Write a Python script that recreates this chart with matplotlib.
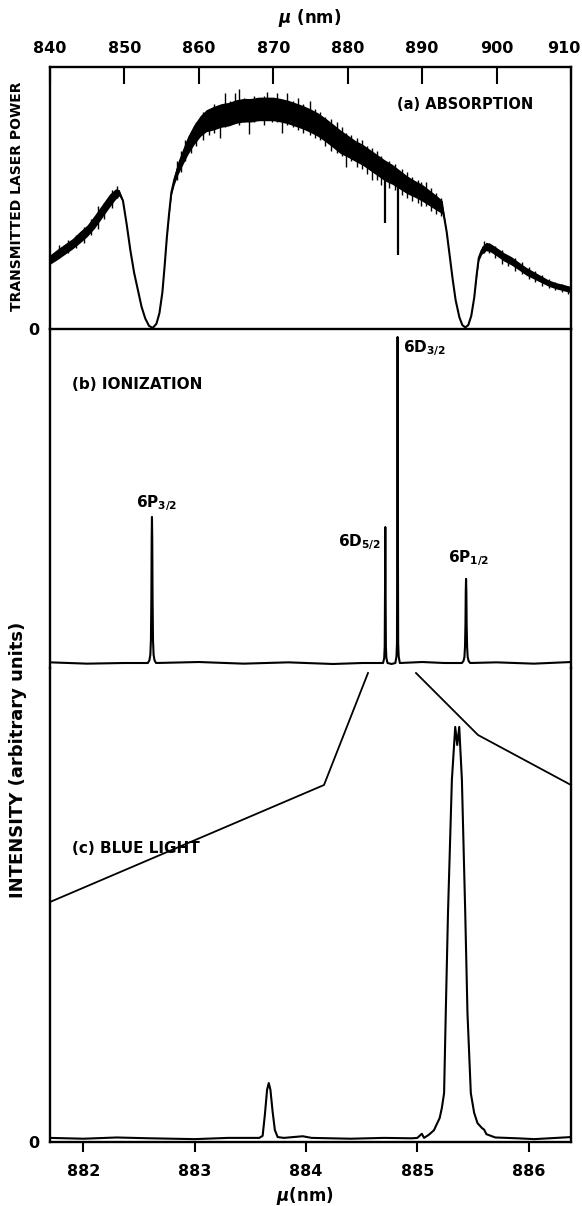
import matplotlib
matplotlib.use("Agg")
import matplotlib.pyplot as plt
from matplotlib.lines import Line2D
import matplotlib.transforms as mtransforms
import numpy as np

plt.rcParams['font.family'] = ['DejaVu Sans']
plt.rcParams['font.weight'] = 'bold'
plt.rcParams['mathtext.fontset'] = 'dejavusans'
plt.rcParams['mathtext.default'] = 'bf'

# ---------------- data ----------------
# (a) absorption: transmitted laser power (fraction of panel height), noisy band half-width
a_wl = [840.0, 841.0, 842.0, 843.0, 844.0, 845.0, 846.0, 847.0, 848.0, 848.8,
        849.3, 849.8, 850.3, 850.8, 851.3, 851.8, 852.3, 852.8, 853.3, 853.8,
        854.3, 854.7, 855.1, 855.4, 855.7, 856.0, 856.3, 856.7, 857.2, 857.8,
        858.5, 859.3, 860.2, 861.0, 862.0, 863.0, 864.0, 865.0, 866.0, 867.0,
        868.0, 869.0, 870.0, 871.0, 872.0, 873.0, 874.0, 875.0, 876.0, 877.0,
        878.0, 879.0, 880.0, 881.0, 882.0, 883.0, 884.0, 885.0, 886.0, 887.0,
        888.0, 889.0, 890.0, 891.0, 892.0, 892.7, 893.0, 893.3, 893.7, 894.1,
        894.5, 895.0, 895.4, 895.8, 896.2, 896.6, 897.0, 897.3, 897.6, 898.0,
        898.6, 899.2, 900.0, 901.0, 902.0, 903.0, 904.0, 905.0, 906.0, 907.0,
        908.0, 909.0, 910.0]
a_mid = [0.265, 0.285, 0.305, 0.325, 0.350, 0.375, 0.410, 0.450, 0.490, 0.515,
         0.520, 0.490, 0.400, 0.300, 0.215, 0.150, 0.085, 0.040, 0.012, 0.004,
         0.020, 0.060, 0.140, 0.240, 0.350, 0.440, 0.520, 0.570, 0.615, 0.655,
         0.700, 0.740, 0.775, 0.795, 0.805, 0.815, 0.820, 0.830, 0.835, 0.835,
         0.840, 0.840, 0.840, 0.835, 0.828, 0.818, 0.808, 0.795, 0.780, 0.760,
         0.738, 0.715, 0.698, 0.680, 0.665, 0.645, 0.625, 0.605, 0.590, 0.570,
         0.550, 0.535, 0.520, 0.500, 0.480, 0.465, 0.420, 0.370, 0.280, 0.190,
         0.110, 0.045, 0.015, 0.006, 0.015, 0.050, 0.120, 0.200, 0.270, 0.300,
         0.315, 0.310, 0.295, 0.275, 0.260, 0.240, 0.220, 0.205, 0.190, 0.175,
         0.165, 0.158, 0.150]
a_band = [0.018, 0.020, 0.020, 0.020, 0.022, 0.022, 0.025, 0.025, 0.025, 0.020,
          0.012, 0.004, 0.000, 0.000, 0.000, 0.000, 0.000, 0.000, 0.000, 0.000,
          0.000, 0.000, 0.000, 0.000, 0.003, 0.006, 0.010, 0.018, 0.025, 0.030,
          0.035, 0.038, 0.040, 0.042, 0.045, 0.045, 0.045, 0.045, 0.045, 0.045,
          0.045, 0.045, 0.045, 0.045, 0.045, 0.045, 0.045, 0.045, 0.045, 0.045,
          0.045, 0.045, 0.042, 0.040, 0.040, 0.040, 0.040, 0.040, 0.038, 0.036,
          0.034, 0.032, 0.032, 0.030, 0.028, 0.025, 0.010, 0.000, 0.000, 0.000,
          0.000, 0.000, 0.000, 0.000, 0.000, 0.000, 0.000, 0.005, 0.010, 0.015,
          0.016, 0.016, 0.016, 0.016, 0.016, 0.015, 0.015, 0.014, 0.013, 0.012,
          0.012, 0.012, 0.012]
# noise spikes on the (a) trace
spike_wl = [841.2, 842.4, 843.5, 844.6, 845.5, 846.5, 847.3, 848.3, 849.0,
            857.0, 857.6, 858.2, 858.9, 859.6, 860.5, 861.3, 862.0, 862.8, 863.5,
            864.2, 864.9, 865.4, 866.0, 866.7, 867.4, 868.0, 868.7, 869.1, 869.8,
            870.5, 871.2, 871.9, 872.6, 873.3, 874.0, 874.9, 875.6, 876.3, 877.0,
            877.7, 878.5, 879.2, 879.8, 880.5, 881.2, 881.9, 882.6, 883.2, 883.9,
            884.5, 885.6, 886.3, 887.3, 888.0, 888.7, 889.4, 889.8, 890.5, 891.2,
            891.9, 892.5,
            898.3, 899.0, 899.8, 900.7, 901.6, 902.5, 903.4, 904.3, 905.2, 906.1,
            907.0, 907.9, 908.8, 909.6]
spike_lo = [0.27, 0.29, 0.31, 0.33, 0.36, 0.38, 0.42, 0.46, 0.50,
            0.57, 0.60, 0.64, 0.67, 0.70, 0.72, 0.74, 0.75, 0.73, 0.77,
            0.78, 0.79, 0.78, 0.79, 0.745, 0.79, 0.80, 0.78, 0.80, 0.79,
            0.79, 0.75, 0.78, 0.77, 0.76, 0.75, 0.74, 0.73, 0.72, 0.70,
            0.68, 0.67, 0.66, 0.62, 0.64, 0.62, 0.61, 0.59, 0.57, 0.57,
            0.55, 0.54, 0.53, 0.51, 0.50, 0.49, 0.48, 0.47, 0.47, 0.45,
            0.44, 0.43,
            0.290, 0.290, 0.270, 0.250, 0.240, 0.220, 0.210, 0.190, 0.180, 0.165,
            0.155, 0.150, 0.140, 0.135]
spike_hi = [0.32, 0.34, 0.36, 0.39, 0.42, 0.47, 0.48, 0.53, 0.545,
            0.64, 0.68, 0.72, 0.75, 0.79, 0.83, 0.84, 0.86, 0.80, 0.90,
            0.87, 0.90, 0.915, 0.88, 0.87, 0.89, 0.88, 0.89, 0.905, 0.88,
            0.90, 0.87, 0.90, 0.87, 0.88, 0.86, 0.87, 0.84, 0.83, 0.81,
            0.80, 0.79, 0.77, 0.75, 0.74, 0.73, 0.72, 0.70, 0.69, 0.68,
            0.66, 0.64, 0.63, 0.61, 0.60, 0.58, 0.57, 0.56, 0.56, 0.54,
            0.52, 0.50,
            0.335, 0.330, 0.315, 0.300, 0.280, 0.270, 0.255, 0.235, 0.220, 0.205,
            0.190, 0.180, 0.170, 0.165]
# sharp 6D absorption dips
dip_wl = [885.0, 886.7]
dip_lo = [0.406, 0.282]
dip_hi = [0.600, 0.580]

# (b) ionization signal (6D3/2 peak = 1)
b_wl = [840.0, 845.0, 850.0,
        853.15, 853.35, 853.48, 853.56, 853.62, 853.66, 853.70, 853.74, 853.78,
        853.84, 853.92, 854.05, 854.25,
        860.0, 866.0, 872.0, 878.0, 882.0,
        884.75, 884.90, 884.97, 885.02, 885.05, 885.08, 885.13, 885.20, 885.35,
        885.90,
        886.40, 886.55, 886.62, 886.67, 886.70, 886.73, 886.78, 886.85, 887.00,
        890.0, 893.0,
        895.35, 895.55, 895.68, 895.76, 895.82, 895.86, 895.90, 895.94, 895.98,
        896.04, 896.12, 896.25, 896.45,
        900.0, 905.0, 910.0]
b_int = [0.002, -0.002, 0.000,
         0.000, 0.008, 0.025, 0.070, 0.200, 0.380, 0.448, 0.380, 0.200,
         0.070, 0.025, 0.008, 0.000,
         0.003, -0.002, 0.002, -0.003, 0.000,
         0.000, 0.015, 0.050, 0.250, 0.417, 0.250, 0.050, 0.015, 0.000,
         -0.003,
         0.000, 0.020, 0.060, 0.500, 1.000, 0.500, 0.060, 0.020, 0.000,
         0.003, 0.000,
         0.000, 0.006, 0.018, 0.050, 0.120, 0.220, 0.258, 0.220, 0.120,
         0.050, 0.018, 0.006, 0.000,
         0.002, -0.002, 0.003]
b_labels = [r"6P$_{3/2}$", r"6D$_{5/2}$", r"6D$_{3/2}$", r"6P$_{1/2}$"]

# (c) blue light intensity
c_wl = [881.70, 882.00, 882.30, 882.60, 883.00, 883.30, 883.58, 883.61, 883.63,
        883.65, 883.665, 883.68, 883.70, 883.72, 883.745, 883.80, 883.97, 884.05,
        884.40, 884.70, 884.95, 885.00, 885.04, 885.06, 885.10, 885.13, 885.15,
        885.17, 885.20, 885.22, 885.24, 885.255, 885.275, 885.31, 885.34, 885.358,
        885.376, 885.40, 885.43, 885.45, 885.48, 885.51, 885.54, 885.56, 885.58,
        885.60, 885.62, 885.66, 885.70, 885.90, 886.05, 886.25, 886.38]
c_int = [0.010, 0.008, 0.011, 0.009, 0.007, 0.010, 0.010, 0.015, 0.066,
         0.127, 0.1435, 0.127, 0.073, 0.029, 0.012, 0.010, 0.014, 0.010,
         0.008, 0.010, 0.009, 0.010, 0.020, 0.010, 0.017, 0.024, 0.029,
         0.041, 0.058, 0.083, 0.119, 0.314, 0.557, 0.881, 1.010, 0.966,
         1.010, 0.881, 0.557, 0.314, 0.119, 0.071, 0.046, 0.040, 0.034,
         0.030, 0.019, 0.015, 0.011, 0.009, 0.007, 0.010, 0.012]

top_ticks = [840, 850, 860, 870, 880, 890, 900, 910]
bottom_ticks = [882, 883, 884, 885, 886]

# ---------------- layout ----------------
W, H = 582, 1206
def fx(px):
    return px / W
def fy(py):
    return 1 - py / H

L, R = 50, 571
fig = plt.figure(figsize=(W / 100, H / 100), dpi=100)
ax_c = fig.add_axes([fx(L), fy(1142), fx(R) - fx(L), (1142 - 668) / H])
ax_b = fig.add_axes([fx(L), fy(668), fx(R) - fx(L), (668 - 329) / H])
ax_a = fig.add_axes([fx(L), fy(329), fx(R) - fx(L), (329 - 67) / H])

lw = 1.5
for ax in (ax_a, ax_b, ax_c):
    ax.patch.set_visible(False)
    for s in ax.spines.values():
        s.set_linewidth(1.7)

# (a)
wl = np.array(a_wl); mid = np.array(a_mid); band = np.array(a_band)
ax_a.fill_between(wl, mid - band, mid + band, color='k', lw=0)
ax_a.plot(wl, mid, color='k', lw=lw)
ax_a.vlines(spike_wl, spike_lo, spike_hi, color='k', lw=1.0)
ax_a.vlines(dip_wl, dip_lo, dip_hi, color='k', lw=1.6)
ax_a.set_xlim(840, 910)
ax_a.set_ylim(0, 1)
ax_a.xaxis.tick_top()
ax_a.set_xticks(top_ticks)
ax_a.tick_params(axis='x', direction='in', length=12, width=1.5, labelsize=11.5, pad=8)
last = ax_a.get_xticklabels()[-1]
last.set_transform(last.get_transform() +
                   mtransforms.ScaledTranslation(-7 / 100, 0, fig.dpi_scale_trans))
ax_a.set_yticks([0])
ax_a.set_yticklabels(['0'])
ax_a.tick_params(axis='y', length=0, labelsize=11.5, pad=8)
ax_a.text(886.6, 0.855, "(a) ABSORPTION", fontsize=10.5, va='center', ha='left')

# (b)
ax_b.plot(b_wl, b_int, color='k', lw=lw)
ax_b.set_xlim(840, 910)
ax_b.set_ylim(-5 / 326, 334 / 326)
ax_b.spines['top'].set_visible(False)
ax_b.spines['bottom'].set_visible(False)
ax_b.set_xticks([]); ax_b.set_yticks([])
ax_b.text(842.96, 0.853, "(b) IONIZATION", fontsize=11, va='center', ha='left')
ax_b.text(854.3, 0.46, b_labels[0], fontsize=11, ha='center', va='bottom')
ax_b.text(884.4, 0.34, b_labels[1], fontsize=11, ha='right', va='bottom')
ax_b.text(887.4, 0.997, b_labels[2], fontsize=11, ha='left', va='top')
ax_b.text(896.2, 0.29, b_labels[3], fontsize=11, ha='center', va='bottom')

# (c)
ax_c.plot(c_wl, c_int, color='k', lw=lw)
ax_c.set_xlim(881.70, 886.38)
ax_c.set_ylim(0, 474 / 411)
ax_c.spines['top'].set_visible(False)
ax_c.set_xticks(bottom_ticks)
ax_c.tick_params(axis='x', direction='out', length=7, width=1.5, labelsize=11.5, pad=9)
ax_c.set_yticks([0])
ax_c.set_yticklabels(['0'])
ax_c.tick_params(axis='y', length=0, labelsize=11.5, pad=8)
ax_c.text(881.9, 0.715, "(c) BLUE LIGHT", fontsize=11, va='center', ha='left')

# zoom connector lines
conn_left_x = [368, 324, 50]
conn_left_y = [673, 785, 902]
conn_right_x = [416, 478, 571]
conn_right_y = [673, 735, 785]
fig.add_artist(Line2D([fx(v) for v in conn_left_x], [fy(v) for v in conn_left_y],
                      transform=fig.transFigure, color='k', lw=1.3))
fig.add_artist(Line2D([fx(v) for v in conn_right_x], [fy(v) for v in conn_right_y],
                      transform=fig.transFigure, color='k', lw=1.3))

# axis titles
fig.text(fx(310), fy(18), r"$\mathit{\mu}$ (nm)", fontsize=12, ha='center', va='center')
fig.text(fx(305), fy(1196), r"$\mathit{\mu}$(nm)", fontsize=12, ha='center', va='center')
fig.text(fx(17), fy(196), "TRANSMITTED LASER POWER", fontsize=10, rotation=90,
         ha='center', va='center')
fig.text(fx(18), fy(760), "INTENSITY (arbitrary units)", fontsize=13, rotation=90,
         ha='center', va='center')

fig.savefig("out.png", dpi=100)
